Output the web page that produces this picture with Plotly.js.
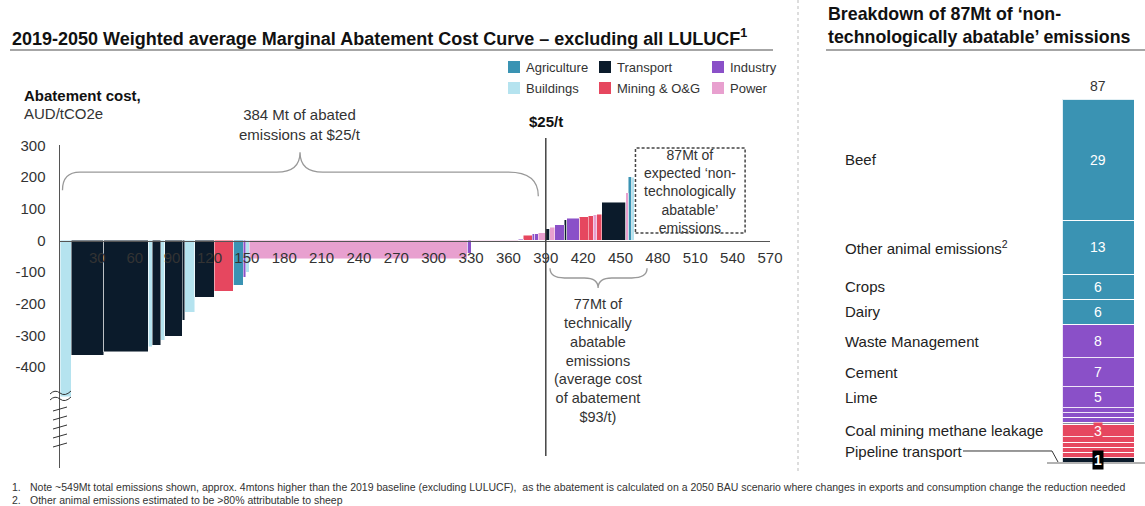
<!DOCTYPE html>
<html>
<head>
<meta charset="utf-8">
<script src="https://cdn.plot.ly/plotly-3.0.1.min.js"></script>
<style>html,body{margin:0;padding:0;background:#fff;}#chart{width:1145px;height:506px;}</style>
</head>
<body>
<div id="chart"></div>
<script>
// ---------------- DATA ----------------
// Left: marginal abatement cost curve (each bar: sector, abatement volume Mt, cost AUD/tCO2e)
const macSectors = ['Buildings','Transport','Transport','Buildings','Transport','Buildings','Transport','Transport','Buildings','Transport','Mining & O&G','Agriculture','Industry','Buildings','Power','Industry','Power','Industry','Mining & O&G','Industry','Industry','Power','Transport','Power','Industry','Transport','Industry','Mining & O&G','Mining & O&G','Power','Mining & O&G','Transport','Power','Agriculture','Buildings'];
const macVolumes = [9,26,36,3,7,3,14,2,8,16,15,8,2,3,175,3,38,4,7,2,3,6,3,4,8,2,10,7,4,3,4,19,2,3,2];
const macCosts   = [-494,-362,-351,-335,-330,-315,-302,-252,-226,-179,-160,-142,-116,-100,-57,-40,-1,4,16,21,22,25,37,42,50,66,70,75,78,82,83,120,150,201,200];

const xTickVals = [30,60,90,120,150,180,210,240,270,300,330,360,390,420,450,480,510,540,570];
const yTickVals = [300,200,100,0,-100,-200,-300,-400];
const yTickText = ['300','200','100','0','-100','-200','-300','-400'];

// Right: breakdown of 87Mt non-technologically abatable emissions (bottom to top)
const bdLabels  = ['Pipeline transport','','','','','Coal mining methane leakage','','','','','Lime','Cement','Waste Management','Dairy','Crops','Other animal emissions<sup>2</sup>','Beef'];
const bdValues  = [1,1.3,1.2,1.2,1.3,3,0.5,1.2,1.1,1.2,5,7,8,6,6,13,29];
const bdSectors = ['Transport','Mining & O&G','Mining & O&G','Mining & O&G','Mining & O&G','Mining & O&G','Other','Industry','Industry','Industry','Industry','Industry','Industry','Agriculture','Agriculture','Agriculture','Agriculture'];
const bdShown   = ['1','','','','','3','','','','','5','7','8','6','6','13','29'];
const bdTotal = 87;

const legendOrder = [['Agriculture','Transport','Industry'],['Buildings','Mining & O&G','Power']];

const sectorColors = {
  'Agriculture':'#3a93b3','Buildings':'#b5e3ef','Transport':'#0b1b2b',
  'Mining & O&G':'#e6475f','Industry':'#8a50c8','Power':'#e8a0cf','Other':'#9090a0'
};

// ---------------- HELPERS ----------------
const W = 1145, H = 506;
const px = x => x / W;
const py = y => 1 - y / H;
const pPath = s => s.replace(/(-?\d+\.?\d*),(-?\d+\.?\d*)/g, (m, a, b) => (a / W).toFixed(5) + ',' + (1 - b / H).toFixed(5));
const FONT = 'Liberation Sans, Arial, sans-serif';

// ---------------- LEFT TRACES ----------------
const starts = [];
let acc = 0;
macVolumes.forEach(v => { starts.push(acc); acc += v; });
const traces = [];
Object.keys(sectorColors).forEach(sec => {
  const xs = [], ws = [], ys = [];
  macSectors.forEach((s, i) => {
    if (s === sec) { xs.push(starts[i] + macVolumes[i] / 2); ws.push(macVolumes[i]); ys.push(macCosts[i]); }
  });
  if (xs.length) traces.push({
    type: 'bar', name: sec, x: xs, y: ys, width: ws, xaxis: 'x', yaxis: 'y',
    marker: { color: sectorColors[sec], line: { color: 'rgba(255,255,255,0.8)', width: 0.6 } },
    hoverinfo: 'x+y', showlegend: false
  });
});

// ---------------- RIGHT TRACES ----------------
const bdBottoms = [];
let b = 0;
bdValues.forEach(v => { bdBottoms.push(b); b += v; });
bdValues.forEach((v, i) => {
  traces.push({
    type: 'bar', x: [0], y: [v], width: [1], xaxis: 'x2', yaxis: 'y2',
    name: bdLabels[i] || bdSectors[i],
    marker: { color: sectorColors[bdSectors[i]], line: { color: 'rgba(255,255,255,0.85)', width: 1 } },
    hoverinfo: 'y+name', showlegend: false
  });
});

// ---------------- ANNOTATIONS ----------------
const ann = [];
// Titles
ann.push({ xref: 'paper', yref: 'paper', x: px(10), y: py(37), xanchor: 'left', yanchor: 'middle', showarrow: false,
  text: '<b>2019-2050 Weighted average Marginal Abatement Cost Curve – excluding all LULUCF<sup>1</sup></b>',
  font: { family: FONT, size: 18, color: '#111' } });
ann.push({ xref: 'paper', yref: 'paper', x: px(826), y: py(25), xanchor: 'left', yanchor: 'middle', showarrow: false, align: 'left',
  text: '<b>Breakdown of 87Mt of ‘non-<br>technologically abatable’ emissions</b>',
  font: { family: FONT, size: 17.8, color: '#111' } });
// Y axis title
ann.push({ xref: 'paper', yref: 'paper', x: px(22), y: py(95), xanchor: 'left', yanchor: 'middle', showarrow: false,
  text: '<b>Abatement cost,</b>', font: { family: FONT, size: 15, color: '#111' } });
ann.push({ xref: 'paper', yref: 'paper', x: px(22), y: py(113), xanchor: 'left', yanchor: 'middle', showarrow: false,
  text: 'AUD/tCO2e', font: { family: FONT, size: 15, color: '#333' } });
// Brace texts
ann.push({ xref: 'x', yref: 'paper', x: 193, y: py(124), xanchor: 'center', yanchor: 'middle', showarrow: false,
  text: '384 Mt of abated<br>emissions at $25/t', font: { family: FONT, size: 15, color: '#333' } });
ann.push({ xref: 'x', yref: 'paper', x: 432, y: py(360), xanchor: 'center', yanchor: 'middle', showarrow: false,
  text: '77Mt of<br>technically<br>abatable<br>emissions<br>(average cost<br>of abatement<br>$93/t)', font: { family: FONT, size: 14.5, color: '#333' } });
ann.push({ xref: 'x', yref: 'paper', x: 506, y: py(191), xanchor: 'center', yanchor: 'middle', showarrow: false,
  text: '87Mt of<br>expected ‘non-<br>technologically<br>abatable’<br>emissions', font: { family: FONT, size: 14, color: '#333' } });
ann.push({ xref: 'x', yref: 'paper', x: 390, y: py(122), xanchor: 'center', yanchor: 'middle', showarrow: false,
  text: '<b>$25/t</b>', font: { family: FONT, size: 15, color: '#111' } });
// Right panel labels and values
bdLabels.forEach((lab, i) => {
  const mid = bdBottoms[i] + bdValues[i] / 2;
  if (lab) ann.push({ xref: 'paper', yref: lab === 'Pipeline transport' ? 'paper' : 'y2', x: px(843),
    y: lab === 'Pipeline transport' ? py(451) : mid, xanchor: 'left', yanchor: 'middle', showarrow: false,
    text: lab, font: { family: FONT, size: 15, color: '#222' } });
  if (bdShown[i]) {
    const isBox = bdSectors[i] === 'Transport';
    ann.push({ xref: 'x2', yref: 'y2', x: 0, y: mid, xanchor: 'center', yanchor: 'middle', showarrow: false,
      text: isBox ? '<b>' + bdShown[i] + '</b>' : bdShown[i],
      bgcolor: isBox ? '#000' : (bdSectors[i] === 'Mining & O&G' ? sectorColors['Mining & O&G'] : 'rgba(0,0,0,0)'),
      borderpad: isBox ? 1 : 0,
      font: { family: FONT, size: 14, color: '#fff' } });
  }
});
ann.push({ xref: 'x2', yref: 'y2', x: 0, y: bdTotal, xanchor: 'center', yanchor: 'bottom', yshift: 3, showarrow: false,
  text: String(bdTotal), font: { family: FONT, size: 14, color: '#333' } });
// Legend (manual, 3x2 grid)
const legX = [508, 599, 712], legY = [67, 88];
const shapes = [];
legendOrder.forEach((row, r) => row.forEach((sec, c) => {
  shapes.push({ type: 'rect', xref: 'paper', yref: 'paper', x0: px(legX[c]), x1: px(legX[c] + 12),
    y0: py(legY[r] + 6), y1: py(legY[r] - 6), fillcolor: sectorColors[sec], line: { width: 0 } });
  ann.push({ xref: 'paper', yref: 'paper', x: px(legX[c] + 16), y: py(legY[r]), xanchor: 'left', yanchor: 'middle', showarrow: false,
    text: sec, font: { family: FONT, size: 13, color: '#333' } });
}));
// Footnotes
ann.push({ xref: 'paper', yref: 'paper', x: px(10), y: py(487), xanchor: 'left', yanchor: 'middle', showarrow: false,
  text: '1.', font: { family: FONT, size: 10.5, color: '#333' } });
ann.push({ xref: 'paper', yref: 'paper', x: px(28), y: py(487), xanchor: 'left', yanchor: 'middle', showarrow: false,
  text: 'Note ~549Mt total emissions shown, approx. 4mtons higher than the 2019 baseline (excluding LULUCF),  as the abatement is calculated on a 2050 BAU scenario where changes in exports and consumption change the reduction needed',
  font: { family: FONT, size: 10.5, color: '#333' } });
ann.push({ xref: 'paper', yref: 'paper', x: px(10), y: py(500), xanchor: 'left', yanchor: 'middle', showarrow: false,
  text: '2.', font: { family: FONT, size: 10.5, color: '#333' } });
ann.push({ xref: 'paper', yref: 'paper', x: px(28), y: py(500), xanchor: 'left', yanchor: 'middle', showarrow: false,
  text: 'Other animal emissions estimated to be >80% attributable to sheep', font: { family: FONT, size: 10.5, color: '#333' } });

// ---------------- SHAPES ----------------
// title underlines
shapes.push({ type: 'line', xref: 'paper', yref: 'paper', x0: px(10), x1: px(773), y0: py(50), y1: py(50), line: { color: '#888', width: 1.5 } });
shapes.push({ type: 'line', xref: 'paper', yref: 'paper', x0: px(826), x1: px(1145), y0: py(50), y1: py(50), line: { color: '#888', width: 1.5 } });
// separator
shapes.push({ type: 'line', xref: 'paper', yref: 'paper', x0: px(798), x1: px(798), y0: py(0), y1: py(472), line: { color: '#bbb', width: 1, dash: 'dot' } });
// $25/t vertical line
shapes.push({ type: 'line', xref: 'x', yref: 'paper', x0: 390, x1: 390, y0: py(138), y1: py(456), line: { color: '#444', width: 1.5 } });
// braces (data coordinates)
shapes.push({ type: 'path', xref: 'x', yref: 'y', line: { color: '#999', width: 1.3 },
  path: 'M 2,159 Q 2,216 16,216 L 174,216 Q 192.7,216 192.7,279 Q 192.7,216 211,216 L 360,216 Q 384,216 384,140' });
shapes.push({ type: 'path', xref: 'x', yref: 'y', line: { color: '#999', width: 1.3 },
  path: 'M 393.4,-88 Q 393.4,-118.4 405,-118.4 L 421,-118.4 Q 432,-118.4 432,-150 Q 432,-118.4 443,-118.4 L 459,-118.4 Q 471.3,-118.4 471.3,-88' });
// dashed box around non-technologically abatable region
shapes.push({ type: 'rect', xref: 'x', yref: 'y', x0: 462, x1: 550, y0: 24, y1: 292, line: { color: '#444', width: 1.5, dash: '3px,2px' } });
// axis break marks
shapes.push({ type: 'path', xref: 'paper', yref: 'paper', line: { color: '#333', width: 1 }, path: pPath('M 50,394 Q 55,389 60,393 Q 65,397 71,391') });
shapes.push({ type: 'path', xref: 'paper', yref: 'paper', line: { color: '#333', width: 1 }, path: pPath('M 50,400 Q 55,395 60,399 Q 65,403 71,397') });
[409, 418, 427, 436, 445].forEach(y => {
  shapes.push({ type: 'path', xref: 'paper', yref: 'paper', line: { color: '#333', width: 1 }, path: pPath('M 53,' + (y + 2) + ' L 67,' + (y - 2)) });
});
// pipeline connector and baseline
shapes.push({ type: 'path', xref: 'paper', yref: 'paper', line: { color: '#333', width: 1 }, path: pPath('M 963,451 L 1052,451 L 1058,462') });
shapes.push({ type: 'line', xref: 'paper', yref: 'paper', x0: px(1047), x1: px(1145), y0: py(463), y1: py(463), line: { color: '#999', width: 1.5 } });

// ---------------- LAYOUT ----------------
const layout = {
  width: W, height: H, margin: { l: 0, r: 0, t: 0, b: 0 },
  paper_bgcolor: '#fff', plot_bgcolor: 'rgba(0,0,0,0)',
  barmode: 'stack', showlegend: false,
  font: { family: FONT, color: '#333' },
  xaxis: {
    domain: [px(60), px(770)], range: [0, 570], anchor: 'free', position: py(240.5),
    showline: true, linecolor: '#555', linewidth: 1.5, showgrid: false, zeroline: false,
    tickmode: 'array', tickvals: xTickVals, ticktext: xTickVals.map(String), ticks: '',
    tickfont: { family: FONT, size: 15, color: '#333' }, ticklabelstandoff: 3
  },
  yaxis: {
    domain: [py(468), py(145)], range: [-718.3, 301.5], anchor: 'x',
    showline: true, linecolor: '#555', linewidth: 1.5, showgrid: false, zeroline: false,
    tickmode: 'array', tickvals: yTickVals, ticktext: yTickText, ticks: '',
    tickfont: { family: FONT, size: 15, color: '#333' }, ticklabelstandoff: 10
  },
  xaxis2: { domain: [px(1062), px(1134)], range: [-0.5, 0.5], anchor: 'y2', visible: false },
  yaxis2: { domain: [py(462), py(99)], range: [0, bdTotal], anchor: 'x2', visible: false },
  annotations: ann, shapes: shapes
};

Plotly.newPlot('chart', traces, layout, { displayModeBar: false, staticPlot: true });
</script>
</body>
</html>
